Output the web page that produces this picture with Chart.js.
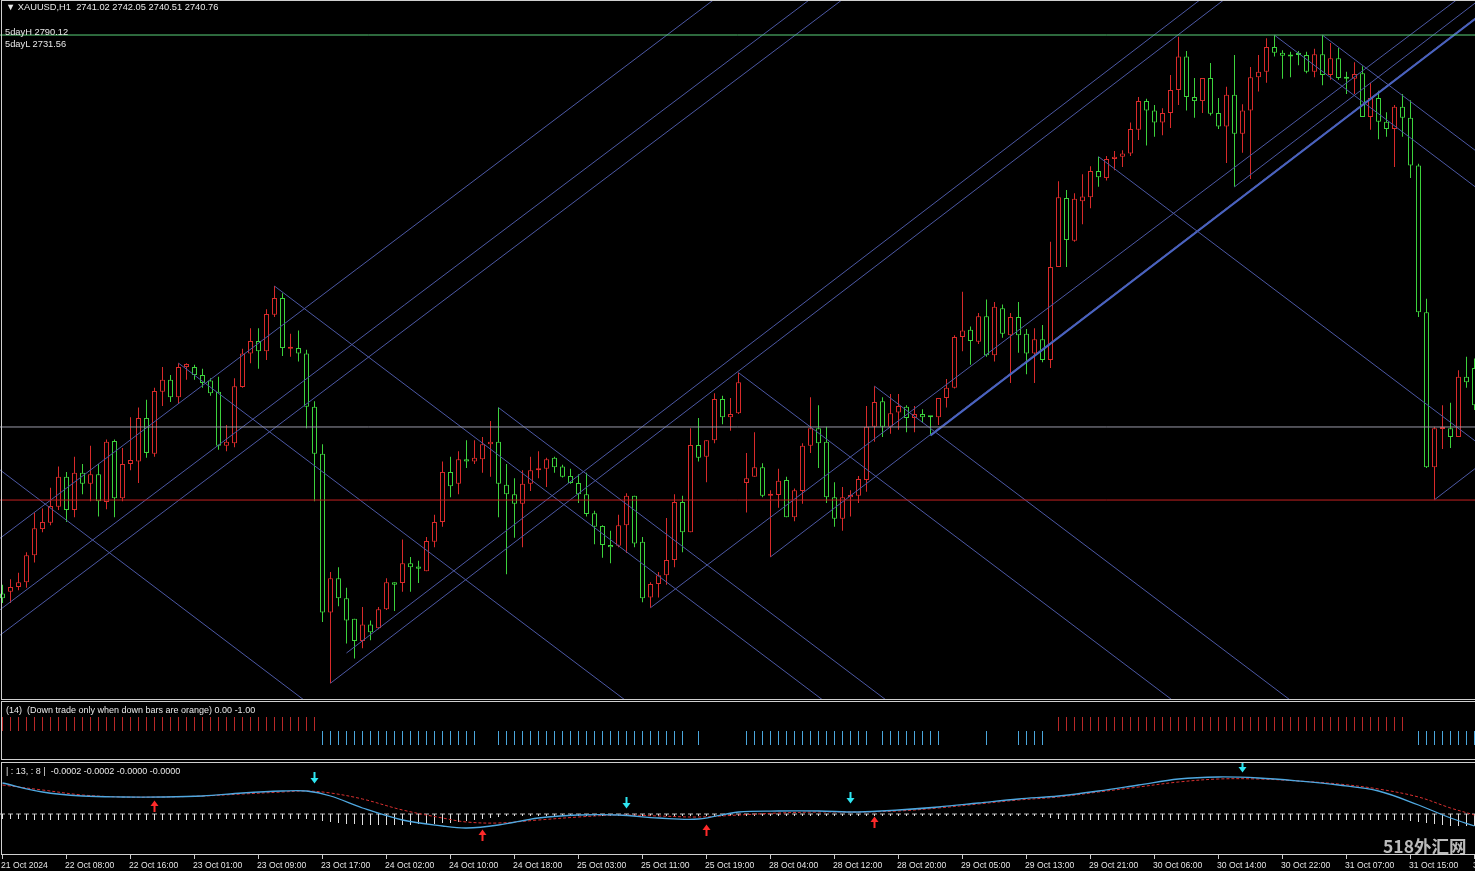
<!DOCTYPE html>
<html>
<head>
<meta charset="utf-8">
<script src="https://cdn.jsdelivr.net/npm/chart.js@4.4.1/dist/chart.umd.min.js"></script>
<style>
  html, body { margin: 0; padding: 0; background: #000; }
  #wrap { position: relative; width: 1475px; height: 871px; background: #000; overflow: hidden; font-family: "Liberation Sans", Arial, sans-serif; }
  canvas { position: absolute; left: 0; }
  .lbl { position: absolute; color: #e8e8e8; font-size: 9.3px; white-space: pre; line-height: 11px; }
  .mark { position: absolute; left: 1383px; top: 835px; color: #dcdcdc; font: bold 17.5px "Noto Sans CJK SC", sans-serif; white-space: nowrap; line-height: 22px; opacity: 0.85; }
</style>
</head>
<body>
<div id="wrap">
  <canvas id="main" width="1475" height="700" style="top:0px"></canvas>
  <canvas id="ind1" width="1475" height="59" style="top:701px"></canvas>
  <canvas id="ind2" width="1475" height="109" style="top:762px"></canvas>
  <div class="lbl" style="left:6px;top:2px">▼ XAUUSD,H1  2741.02 2742.05 2740.51 2740.76</div>
  <div class="lbl" style="left:5px;top:27px">5dayH 2790.12</div>
  <div class="lbl" style="left:5px;top:39px">5dayL 2731.56</div>
  <div class="lbl" style="left:6px;top:705px;font-size:9px">(14)  (Down trade only when down bars are orange) 0.00 -1.00</div>
  <div class="lbl" style="left:6px;top:766px;font-size:9px">| : 13, : 8 |  -0.0002 -0.0002 -0.0000 -0.0000</div>
  <div class="mark">518外汇网</div>
</div>
<script>
// ---- candles, XAUUSD H1, 21 Oct 23:00 .. 31 Oct 23:00
const opens = [2719.8,2720.0,2720.6,2721.2,2724.6,2727.9,2728.7,2730.7,2734.5,2730.3,
  2735.0,2733.6,2734.8,2731.3,2739.0,2731.8,2736.1,2736.4,2741.9,2737.4,
  2745.2,2746.7,2744.5,2748.3,2748.3,2747.3,2746.6,2745.2,2738.4,2738.7,
  2745.8,2750.0,2751.6,2750.3,2754.9,2757.0,2750.6,2750.7,2750.0,2743.3,
  2737.4,2717.4,2721.7,2719.2,2716.6,2713.8,2715.9,2715.4,2717.8,2721.2,
  2721.1,2723.6,2723.2,2722.6,2726.3,2728.8,2735.1,2733.6,2736.7,2736.4,
  2736.7,2738.6,2738.9,2733.5,2732.3,2731.1,2733.6,2735.3,2735.5,2736.9,
  2735.8,2734.6,2733.7,2732.3,2729.9,2728.3,2725.9,2725.8,2728.4,2732.1,
  2726.3,2719.3,2721.0,2722.1,2724.0,2731.3,2727.5,2738.5,2737.0,2739.1,
  2744.3,2742.0,2742.5,2733.7,2734.5,2735.7,2732.1,2732.2,2734.1,2729.4,
  2732.7,2738.4,2740.6,2738.9,2731.9,2729.2,2731.9,2732.1,2734.1,2740.8,
  2744.0,2740.8,2742.6,2743.3,2741.9,2742.4,2742.1,2742.0,2744.4,2745.7,
  2752.1,2753.0,2751.5,2754.7,2749.8,2755.7,2752.3,2754.6,2752.5,2750.0,
  2751.8,2749.2,2760.9,2769.6,2764.2,2769.2,2769.7,2773.0,2772.1,2774.5,
  2774.8,2775.2,2778.2,2781.8,2780.6,2779.1,2780.3,2783.2,2787.4,2782.3,
  2781.8,2784.7,2780.3,2778.6,2782.6,2777.7,2780.6,2784.8,2785.5,2788.6,
  2787.9,2787.5,2787.7,2787.6,2785.5,2787.7,2785.1,2787.2,2784.7,2784.6,
  2785.3,2779.8,2782.2,2779.2,2778.3,2781.1,2779.7,2773.7,2755.2,2735.7,
  2740.5,2740.6,2739.5,2747.1,2748.2];
const highs = [2720.9,2721.6,2722.4,2725.0,2730.0,2730.5,2733.1,2735.8,2735.1,2737.0,
  2736.1,2738.4,2736.1,2739.2,2739.2,2738.1,2742.0,2743.2,2744.2,2745.7,
  2748.3,2747.3,2748.8,2748.8,2748.6,2748.1,2746.9,2747.1,2741.0,2746.9,
  2750.6,2753.2,2753.2,2755.6,2758.5,2757.6,2752.5,2752.9,2750.5,2744.0,
  2738.6,2722.5,2723.1,2720.5,2716.6,2718.1,2716.4,2718.1,2721.7,2721.2,
  2726.6,2724.4,2723.9,2726.9,2729.7,2736.4,2737.0,2737.7,2739.1,2739.1,
  2739.5,2741.5,2743.2,2736.1,2734.3,2735.3,2737.0,2737.7,2736.9,2737.0,
  2736.0,2735.5,2734.8,2735.0,2730.2,2728.4,2727.7,2729.7,2732.4,2732.1,
  2726.9,2721.2,2722.5,2729.3,2732.3,2732.1,2740.6,2741.9,2739.1,2745.0,
  2744.7,2744.4,2747.6,2737.5,2740.1,2736.2,2732.8,2735.5,2734.5,2733.0,
  2738.7,2744.5,2743.5,2740.8,2733.8,2733.2,2732.8,2734.6,2743.4,2745.9,
  2744.5,2744.9,2744.9,2743.5,2743.4,2743.0,2742.1,2744.4,2746.8,2752.3,
  2757.8,2753.4,2755.1,2756.8,2756.5,2756.2,2755.1,2756.5,2753.1,2753.2,
  2753.6,2764.1,2771.7,2770.6,2770.2,2772.6,2773.6,2774.8,2774.9,2775.5,
  2775.6,2779.1,2782.3,2782.1,2781.3,2780.9,2785.1,2789.9,2788.1,2784.7,
  2784.7,2786.6,2782.2,2783.6,2787.6,2781.4,2786.1,2787.6,2789.7,2790.1,
  2788.2,2788.0,2788.1,2788.0,2788.4,2790.1,2789.1,2788.5,2785.5,2786.7,
  2786.2,2784.1,2783.1,2780.4,2781.3,2782.7,2781.9,2773.9,2756.9,2740.8,
  2743.5,2743.8,2747.9,2749.6,2749.4];
const lows = [2718.6,2718.6,2720.2,2720.5,2723.7,2727.5,2728.4,2730.3,2728.8,2729.4,
  2732.3,2731.4,2729.5,2730.4,2729.4,2731.4,2735.3,2733.7,2736.9,2737.0,
  2743.4,2743.9,2743.7,2746.7,2746.7,2745.7,2744.7,2737.9,2737.7,2738.2,
  2745.7,2748.8,2748.1,2749.2,2754.6,2749.7,2749.6,2749.0,2740.6,2731.4,
  2716.2,2708.5,2718.2,2713.5,2711.6,2712.9,2713.9,2715.3,2717.7,2717.6,
  2720.0,2720.0,2721.1,2722.6,2725.6,2728.2,2731.9,2732.3,2735.6,2736.1,
  2735.0,2734.5,2729.4,2722.2,2726.8,2725.6,2732.7,2734.3,2733.2,2735.0,
  2734.4,2733.6,2731.2,2729.5,2726.0,2724.3,2723.6,2725.6,2724.9,2725.6,
  2718.7,2718.0,2719.3,2720.9,2723.1,2725.0,2727.5,2736.4,2733.8,2738.7,
  2741.1,2740.3,2742.4,2730.0,2734.5,2731.9,2724.4,2730.6,2729.4,2728.9,
  2731.1,2737.5,2735.6,2731.2,2728.2,2727.7,2729.5,2731.2,2732.6,2738.9,
  2739.5,2739.9,2740.4,2740.1,2740.1,2741.3,2739.7,2741.0,2743.2,2745.6,
  2750.3,2748.6,2751.2,2749.6,2749.0,2752.0,2746.3,2750.1,2747.4,2746.3,
  2748.9,2748.2,2760.9,2760.9,2764.1,2766.3,2768.3,2771.0,2771.8,2773.1,
  2773.5,2774.9,2776.9,2776.2,2777.3,2777.5,2778.4,2781.3,2780.6,2779.7,
  2780.3,2780.0,2778.3,2774.0,2771.0,2775.3,2772.0,2783.0,2784.1,2787.4,
  2784.6,2784.8,2786.3,2785.3,2784.8,2783.8,2784.5,2784.5,2782.7,2782.7,
  2779.8,2778.2,2777.0,2777.3,2773.5,2777.3,2772.1,2754.6,2735.6,2731.6,
  2738.0,2738.1,2739.5,2745.7,2742.9];
const closes = [2719.2,2720.6,2721.2,2724.6,2728.0,2728.8,2730.8,2734.5,2730.3,2735.0,
  2733.6,2734.8,2731.4,2738.9,2731.8,2736.1,2736.6,2741.9,2737.5,2745.3,
  2746.7,2744.5,2748.3,2748.7,2747.3,2746.3,2745.0,2738.4,2738.9,2745.9,
  2750.0,2751.6,2750.3,2755.0,2757.0,2750.7,2750.7,2750.0,2743.3,2737.4,
  2717.4,2721.7,2719.2,2716.4,2713.8,2715.9,2714.9,2717.8,2721.2,2720.9,
  2723.6,2723.1,2722.9,2726.4,2728.8,2735.1,2733.3,2736.7,2736.4,2736.9,
  2738.6,2738.9,2733.6,2732.3,2731.1,2733.6,2735.3,2735.5,2736.7,2735.7,
  2734.5,2733.7,2732.3,2729.8,2728.2,2725.9,2725.6,2728.4,2732.1,2726.1,
  2719.2,2721.0,2722.1,2724.0,2731.3,2727.5,2738.5,2736.9,2739.1,2744.3,
  2742.0,2742.4,2746.4,2734.3,2735.7,2732.1,2732.2,2734.0,2729.4,2732.8,
  2738.4,2740.6,2738.7,2731.9,2729.2,2731.9,2732.2,2734.2,2740.8,2743.9,
  2740.8,2742.5,2743.4,2741.9,2742.4,2742.0,2742.0,2744.4,2745.7,2752.1,
  2752.9,2751.6,2754.7,2749.8,2755.9,2752.5,2754.6,2752.3,2750.0,2751.8,
  2749.2,2760.9,2769.7,2764.3,2769.5,2769.8,2773.0,2772.2,2774.5,2774.8,
  2775.2,2778.3,2781.8,2780.6,2779.1,2780.3,2783.2,2787.4,2782.3,2781.8,
  2784.7,2780.2,2778.6,2782.6,2777.7,2780.6,2784.8,2785.5,2788.6,2787.9,
  2787.5,2787.4,2787.6,2785.5,2787.7,2785.1,2787.2,2784.7,2784.6,2785.2,
  2779.8,2782.2,2779.2,2778.3,2781.1,2779.7,2773.7,2755.2,2735.7,2740.6,
  2740.6,2739.5,2747.1,2746.4,2743.5];

// ---- horizontal levels
const level5dayH = 2790.12;
const level5dayL = 2731.56;
const bidPrice = 2740.76;

// ---- trend lines [barFrom, priceFrom, barTo, priceTo]
const thinLines = [
  [-0.5, 2726.6, 95, 2799.2],
  [-0.5, 2717.6, 105, 2797.7],
  [-0.5, 2714.4, 110, 2798.4],
  [41, 2708.5, 160, 2800.2],
  [43, 2712.3, 160, 2802.5],
  [96, 2724.4, 190, 2796.8],
  [81, 2718.0, 190, 2800.8],
  [154, 2771.0, 190, 2798.7],
  [179, 2731.6, 190, 2740.1],
  [-0.5, 2735.5, 45, 2700.8],
  [22, 2748.8, 82, 2703.2],
  [34, 2758.5, 110, 2700.7],
  [62, 2743.2, 122, 2697.6],
  [92, 2747.6, 150, 2703.5],
  [109, 2745.9, 165, 2703.3],
  [137, 2774.8, 190, 2734.5],
  [159, 2790.1, 190, 2766.5],
  [165, 2790.1, 190, 2771.1]
];
const thickLines = [
  [116, 2739.7, 190, 2796.7]
];

// ---- trend bars indicator: 1 = up (red), -1 = down (blue), 0 = none
const trendState = [
  1,1,1,1,1,1,1,1,1,1,1,1,1,1,1,1,1,1,1,1,
  1,1,1,1,1,1,1,1,1,1,1,1,1,1,1,1,1,1,1,1,
  -1,-1,-1,-1,-1,-1,-1,-1,-1,-1,-1,-1,-1,-1,-1,-1,-1,-1,-1,-1,
  0,0,-1,-1,-1,-1,-1,-1,-1,-1,-1,-1,-1,-1,-1,-1,-1,-1,-1,-1,
  -1,-1,-1,-1,-1,-1,0,-1,0,0,0,0,0,-1,-1,-1,-1,-1,-1,-1,
  -1,-1,-1,-1,-1,-1,-1,-1,-1,0,-1,-1,-1,-1,-1,-1,-1,-1,0,0,
  0,0,0,-1,0,0,0,-1,-1,-1,-1,0,1,1,1,1,1,1,1,1,
  1,1,1,1,1,1,1,1,1,1,1,1,1,1,1,1,1,1,1,1,
  1,1,1,1,1,1,1,1,1,1,1,1,1,1,1,1,0,-1,-1,-1,
  -1,-1,-1,-1,-1
];

// ---- oscillator panel
const oscBars = [0,5,10,15,20,25,30,35,38,41,45,50,55,58,62,67,72,77,82,87,
  92,97,102,107,112,117,122,127,132,137,142,147,152,157,162,167,172,177,181,184];
const oscMain = [3.2,2.3,1.9,1.8,1.8,1.9,2.2,2.4,2.4,1.9,0.7,-0.5,-1.1,-1.3,-1.0,-0.3,0.0,0.0,-0.3,-0.4,
  0.3,0.4,0.4,0.3,0.5,0.8,1.2,1.6,1.9,2.4,3.0,3.6,3.8,3.7,3.4,3.0,2.4,1.0,-0.3,-1.1];
const oscSignal = [3.0,2.5,2.0,1.8,1.8,1.9,2.1,2.3,2.4,2.2,1.6,0.5,-0.3,-0.7,-0.8,-0.5,-0.2,0.0,-0.1,-0.2,
  0.0,0.2,0.3,0.3,0.4,0.7,1.1,1.5,1.8,2.3,2.8,3.3,3.6,3.6,3.4,3.1,2.6,1.8,0.7,0.0];
const oscHist = [
  -0.4,-0.4,-0.4,-0.5,-0.5,-0.5,-0.5,-0.5,-0.5,-0.5,-0.5,-0.5,-0.5,-0.5,-0.5,-0.5,-0.5,-0.5,-0.5,-0.5,
  -0.5,-0.5,-0.5,-0.5,-0.5,-0.5,-0.4,-0.4,-0.4,-0.4,-0.4,-0.4,-0.4,-0.4,-0.4,-0.4,-0.4,-0.4,-0.4,-0.5,
  -0.6,-0.7,-0.8,-0.9,-0.9,-1.0,-1.0,-1.0,-1.0,-1.0,-1.0,-1.0,-0.9,-0.9,-0.9,-0.8,-0.8,-0.7,-0.6,-0.5,
  -0.4,-0.3,-0.2,-0.1,-0.1,-0.1,-0.1,-0.1,-0.1,-0.1,-0.1,-0.1,-0.1,-0.1,-0.1,-0.1,-0.1,-0.1,-0.1,-0.1,
  -0.1,-0.1,-0.1,-0.1,-0.1,-0.1,-0.1,-0.1,-0.1,-0.1,-0.1,-0.1,-0.1,-0.1,-0.1,-0.1,-0.1,-0.1,-0.1,-0.1,
  -0.1,-0.1,-0.1,-0.1,-0.1,-0.1,-0.1,-0.1,-0.1,-0.1,-0.1,-0.1,-0.1,-0.1,-0.1,-0.1,-0.1,-0.1,-0.1,-0.1,
  -0.1,-0.1,-0.1,-0.1,-0.1,-0.1,-0.1,-0.1,-0.1,-0.1,-0.2,-0.3,-0.4,-0.5,-0.5,-0.5,-0.5,-0.5,-0.5,-0.5,
  -0.5,-0.5,-0.5,-0.5,-0.5,-0.5,-0.5,-0.5,-0.5,-0.5,-0.5,-0.5,-0.5,-0.5,-0.5,-0.5,-0.5,-0.5,-0.5,-0.5,
  -0.5,-0.5,-0.5,-0.5,-0.5,-0.5,-0.5,-0.5,-0.5,-0.5,-0.5,-0.5,-0.5,-0.5,-0.5,-0.5,-0.6,-0.7,-0.8,-0.9,
  -1.0,-1.1,-1.1,-1.1,-1.1
];
const arrowDownBars = [39, 78, 106, 155];
const arrowDownVals = [3.7, 1.2, 1.7, 4.8];
const arrowUpBars = [19, 60, 88, 109];
const arrowUpVals = [0.9, -2.0, -1.5, -0.7];

// ---- time axis
const tickBars = [0,8,16,24,32,40,48,56,64,72,80,88,96,104,112,120,128,136,144,152,160,168,176,184];
const tickLabels = ['21 Oct 2024','22 Oct 08:00','22 Oct 16:00','23 Oct 01:00','23 Oct 09:00','23 Oct 17:00',
  '24 Oct 02:00','24 Oct 10:00','24 Oct 18:00','25 Oct 03:00','25 Oct 11:00','25 Oct 19:00',
  '28 Oct 04:00','28 Oct 12:00','28 Oct 20:00','29 Oct 05:00','29 Oct 13:00','29 Oct 21:00',
  '30 Oct 06:00','30 Oct 14:00','30 Oct 22:00','31 Oct 07:00','31 Oct 15:00','31 Oct 23:00'];

// ---- layout of the scales
const xMin = -0.3125;
const xMax = xMin + 1475 / 8;
const priceMax = 2794.53;
const priceMin = 2706.38;
const upColor = '#d82a2a';
const downColor = '#3cd23c';

Chart.defaults.font.family = '"Liberation Sans", Arial, sans-serif';
Chart.defaults.color = '#e0e0e0';

const frame = {
  id: 'frame',
  afterDraw(chart, args, opts) {
    const { ctx, chartArea: a } = chart;
    ctx.save();
    ctx.strokeStyle = '#d0d0d0';
    ctx.lineWidth = 1;
    ctx.strokeRect(a.left + 1.5, a.top + 0.5, a.right - a.left + 20, a.bottom - a.top - 1);
    ctx.restore();
  }
};

function baseOptions(yMin, yMax) {
  return {
    responsive: false,
    devicePixelRatio: 1,
    animation: false,
    events: [],
    layout: { padding: 0, autoPadding: false },
    plugins: { legend: { display: false }, tooltip: { enabled: false } },
    scales: {
      x: { type: 'linear', min: xMin, max: xMax, offset: false, grid: { offset: false }, display: false },
      y: { type: 'linear', min: yMin, max: yMax, display: false }
    }
  };
}

function segment(l, color, width) {
  return {
    type: 'line',
    data: [{ x: l[0], y: l[1] }, { x: l[2], y: l[3] }],
    borderColor: color,
    borderWidth: width,
    pointRadius: 0,
    order: 0
  };
}

// ---- main price chart
const idx = opens.map((_, i) => i);
const candleColors = idx.map(i => closes[i] >= opens[i] ? upColor : downColor);

const mainDatasets = [
  {
    type: 'bar',
    data: idx.map(i => ({ x: i, y: [Math.min(opens[i], closes[i]), Math.max(opens[i], closes[i])] })),
    backgroundColor: '#000',
    borderColor: candleColors,
    borderWidth: 1,
    borderSkipped: false,
    barThickness: 5,
    minBarLength: 2,
    inflateAmount: 0,
    grouped: false,
    order: 1
  },
  {
    type: 'bar',
    data: idx.map(i => ({ x: i, y: [lows[i], highs[i]] })),
    backgroundColor: candleColors,
    borderWidth: 0,
    barThickness: 1,
    minBarLength: 1,
    inflateAmount: 0,
    grouped: false,
    order: 2
  },
  segment([xMin, level5dayH, xMax, level5dayH], '#5ad27a', 1),
  segment([xMin, bidPrice, xMax, bidPrice], '#9a9aa8', 1),
  segment([xMin, level5dayL, xMax, level5dayL], '#c42020', 1)
];
thinLines.forEach(l => mainDatasets.push(segment(l, '#4c58a4', 1)));
thickLines.forEach(l => mainDatasets.push(segment(l, '#4a68cc', 2)));

new Chart(document.getElementById('main'), {
  type: 'bar',
  data: { datasets: mainDatasets },
  options: baseOptions(priceMin, priceMax),
  plugins: [frame]
});

// ---- trend bars panel
const upTicks = idx.filter(i => trendState[i] === 1).map(i => ({ x: i, y: [0, 1] }));
const downTicks = idx.filter(i => trendState[i] === -1).map(i => ({ x: i, y: [-1, 0] }));

new Chart(document.getElementById('ind1'), {
  type: 'bar',
  data: {
    datasets: [
      { data: upTicks, backgroundColor: '#b82828', barThickness: 1, inflateAmount: 0, grouped: false },
      { data: downTicks, backgroundColor: '#4aa6dc', barThickness: 1, inflateAmount: 0, grouped: false }
    ]
  },
  options: baseOptions(-2.07, 2.14),
  plugins: [frame]
});

// ---- oscillator panel
function arrowImage(color, up) {
  const c = document.createElement('canvas');
  c.width = 9; c.height = 12;
  const g = c.getContext('2d');
  g.fillStyle = color;
  g.beginPath();
  if (up) {
    g.fillRect(3.5, 5, 2, 7);
    g.moveTo(0.5, 6); g.lineTo(8.5, 6); g.lineTo(4.5, 0.5);
  } else {
    g.fillRect(3.5, 0, 2, 7);
    g.moveTo(0.5, 6); g.lineTo(8.5, 6); g.lineTo(4.5, 11.5);
  }
  g.closePath();
  g.fill();
  return c;
}

const oscOptions = baseOptions(-4.0, 5.3);
oscOptions.scales.x = {
  type: 'linear', min: xMin, max: xMax, display: true, offset: false,
  afterBuildTicks: ax => { ax.ticks = tickBars.map(v => ({ value: v })); },
  afterFit: ax => { ax.height = 16; ax.paddingLeft = 0; ax.paddingRight = 0; },
  grid: { display: true, offset: false, drawOnChartArea: false, drawTicks: true, tickLength: 4, color: '#c8c8c8' },
  border: { display: false },
  ticks: {
    autoSkip: false, maxRotation: 0, minRotation: 0, align: 'start', padding: 1, labelOffset: -1.5,
    color: '#e4e4e4', font: { size: 8.6 },
    callback: (v, i) => tickLabels[i]
  }
};

new Chart(document.getElementById('ind2'), {
  type: 'bar',
  data: {
    datasets: [
      {
        type: 'scatter',
        data: arrowDownBars.map((b, i) => ({ x: b, y: arrowDownVals[i] })),
        pointStyle: arrowImage('#2ee6f2', false),
        order: 0
      },
      {
        type: 'scatter',
        data: arrowUpBars.map((b, i) => ({ x: b, y: arrowUpVals[i] })),
        pointStyle: arrowImage('#ff2a2a', true),
        order: 0
      },
      {
        type: 'line',
        data: oscBars.map((b, i) => ({ x: b, y: oscMain[i] })),
        borderColor: '#4fa8e0', borderWidth: 1.3, pointRadius: 0, tension: 0.35, order: 1
      },
      {
        type: 'line',
        data: oscBars.map((b, i) => ({ x: b, y: oscSignal[i] })),
        borderColor: '#d83030', borderWidth: 1, borderDash: [3, 2], pointRadius: 0, tension: 0.35, order: 2
      },
      {
        type: 'bar',
        data: idx.map(i => ({ x: i, y: [0.1, oscHist[i]] })),
        backgroundColor: '#e0e0e0', barThickness: 1, inflateAmount: 0, grouped: false, order: 3
      },
      {
        type: 'line',
        data: [{ x: xMin, y: 0.1 }, { x: xMax, y: 0.1 }],
        borderColor: '#bdbdbd', borderWidth: 1, borderDash: [5, 3], pointRadius: 0, order: 4
      }
    ]
  },
  options: oscOptions,
  plugins: [frame]
});
</script>
</body>
</html>
